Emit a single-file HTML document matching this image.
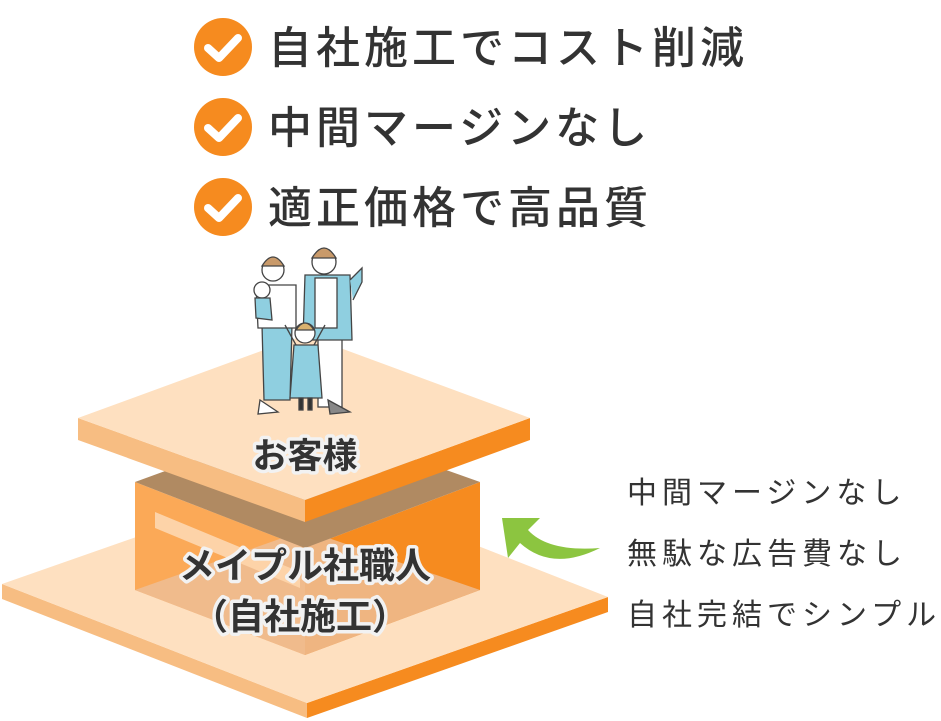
<!DOCTYPE html>
<html><head><meta charset="utf-8"><style>
html,body{margin:0;padding:0;background:#fff;}
svg{display:block}
.jp{font-family:"Liberation Sans","Noto Sans CJK JP",sans-serif;}
</style></head><body>
<svg width="941" height="721" viewBox="0 0 941 721" xmlns="http://www.w3.org/2000/svg">
<g>
<circle cx="223" cy="47" r="29" fill="#f68b1f"/>
<path d="M208 48 L219 58 L238 38" stroke="#fff" stroke-width="8" fill="none" stroke-linecap="round" stroke-linejoin="round"/>
<circle cx="223" cy="127" r="29" fill="#f68b1f"/>
<path d="M208 128 L219 138 L238 118" stroke="#fff" stroke-width="8" fill="none" stroke-linecap="round" stroke-linejoin="round"/>
<circle cx="223" cy="207" r="29" fill="#f68b1f"/>
<path d="M208 208 L219 218 L238 198" stroke="#fff" stroke-width="8" fill="none" stroke-linecap="round" stroke-linejoin="round"/>
</g>
<g class="jp" font-size="44" font-weight="500" fill="#333" letter-spacing="4">
<text x="268" y="63">自社施工でコスト削減</text>
<text x="268" y="143">中間マージンなし</text>
<text x="268" y="223">適正価格で高品質</text>
</g>

<polygon points="2,584 2,599 307,718 307,703" fill="#f7bd82"/>
<polygon points="307,703 307,718 608,612 608,597" fill="#f68b1f"/>
<polygon points="2,584 305,478 608,597 307,703" fill="#fee0c0"/>

<polygon points="135,482 305,548 305,655 135,590" fill="#fba957"/>
<polygon points="305,548 480,482 480,590 305,655" fill="#f68b1f"/>
<polygon points="135,590 305,530 480,590 305,655" fill="#edbf9a" opacity="0.8"/>
<polygon points="155,512 300,572 300,588 155,528" fill="#fdd3a8"/>
<polygon points="135,482 305,420 480,482 305,548" fill="#b08a62"/>

<polygon points="78,418 78,440 305,522 305,500" fill="#f7bd82"/>
<polygon points="305,500 305,522 530,440 530,418" fill="#f68b1f"/>
<polygon points="78,418 305,335 530,418 305,500" fill="#fee0c0"/>

<g stroke="#444" stroke-width="1.3">
<rect x="318" y="312" width="24" height="95" fill="#fff"/>
<path d="M305 275 L350 275 L352 340 L303 340 Z" fill="#8fcfe0"/>
<rect x="315" y="278" width="22" height="50" fill="#fff"/>
<path d="M350 280 L362 268 L362 282 L353 300" fill="#8fcfe0"/>
<circle cx="324" cy="262" r="12" fill="#fff"/>
<path d="M312 258 Q324 238 336 258 Z" fill="#c99a6a"/>
<path d="M328 400 L350 412 L330 414 Z" fill="#888"/>
<path d="M262 325 L292 325 L290 400 L264 400 Z" fill="#8fcfe0"/>
<path d="M256 285 L296 285 L296 328 L258 328 Z" fill="#fff"/>
<circle cx="273" cy="270" r="11" fill="#fff"/>
<path d="M262 266 Q273 248 284 266 Z" fill="#c99a6a"/>
<path d="M260 400 L278 412 L258 414 Z" fill="#fff"/>
<circle cx="262" cy="290" r="8" fill="#fff"/>
<path d="M255 298 L270 298 L272 320 L256 318 Z" fill="#8fcfe0"/>
<path d="M294 345 L318 345 L322 398 L290 398 Z" fill="#8fcfe0"/>
<circle cx="305" cy="333" r="10" fill="#fff"/>
<path d="M296 330 Q305 316 314 330 Z" fill="#d9b16e"/>
<path d="M296 345 L285 325 M314 345 L325 325" fill="none"/>
<rect x="299" y="398" width="4" height="12" fill="#333"/>
<rect x="308" y="398" width="4" height="12" fill="#333"/>
</g>

<g class="jp" font-weight="700" fill="#333" stroke="#f2f2f2" stroke-width="7" paint-order="stroke" stroke-linejoin="round" text-anchor="middle">
<text x="305" y="468" font-size="35">お客様</text>
<text x="305" y="578" font-size="36">メイプル社職人</text>
<text x="300" y="629" font-size="36">（自社施工）</text>
</g>

<path d="M502 518 L540 518 L528 530 Q548 552 600 548 Q552 572 520 543 L508 558 Z" fill="#8cc540"/>

<g class="jp" font-size="30" fill="#333" letter-spacing="5">
<text x="627" y="503">中間マージンなし</text>
<text x="627" y="564">無駄な広告費なし</text>
<text x="627" y="625">自社完結でシンプル</text>
</g>
</svg>
</body></html>
